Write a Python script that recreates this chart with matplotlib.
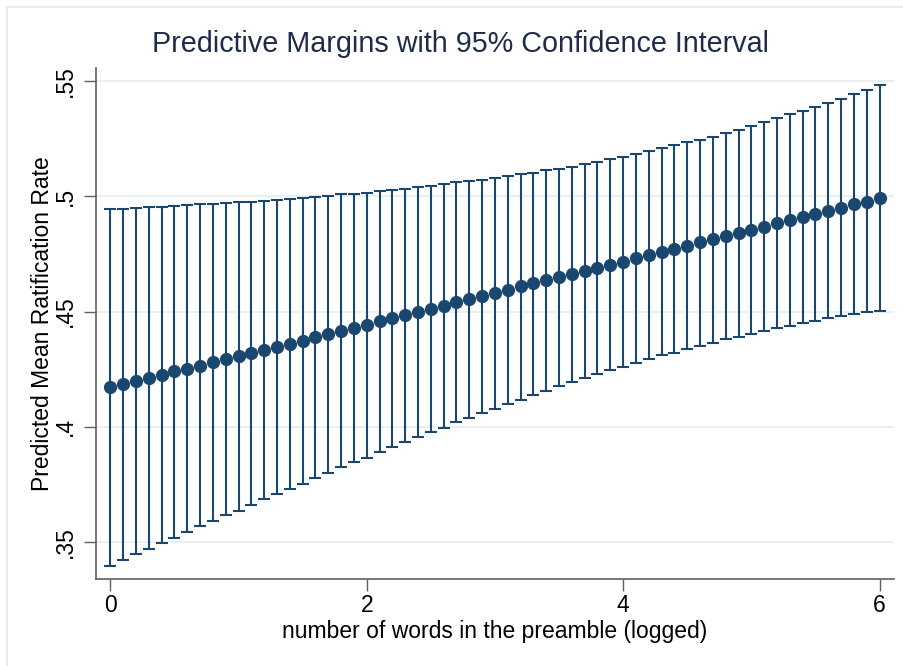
"""Predictive margins with 95% CI, Stata-style errorbar plot."""
import matplotlib
matplotlib.use("Agg")
import matplotlib.pyplot as plt
from matplotlib.lines import Line2D

# number of words in the preamble (logged), 0 to 6 by 0.1
words_logged = [round(0.1 * i, 1) for i in range(61)]

margin = [
    0.4171, 0.4186, 0.4200, 0.4212, 0.4225, 0.4241, 0.4252, 0.4265, 0.4280, 0.4293,
    0.4307, 0.4320, 0.4333, 0.4348, 0.4361, 0.4374, 0.4389, 0.4402, 0.4416, 0.4430,
    0.4443, 0.4457, 0.4471, 0.4484, 0.4497, 0.4512, 0.4526, 0.4540, 0.4554, 0.4568,
    0.4580, 0.4594, 0.4609, 0.4622, 0.4637, 0.4648, 0.4661, 0.4676, 0.4689, 0.4703,
    0.4717, 0.4732, 0.4745, 0.4760, 0.4773, 0.4786, 0.4802, 0.4813, 0.4826, 0.4841,
    0.4855, 0.4867, 0.4883, 0.4897, 0.4910, 0.4925, 0.4938, 0.4951, 0.4967, 0.4978,
    0.4993,
]

ci_low = [
    0.3396, 0.3422, 0.3445, 0.3470, 0.3493, 0.3517, 0.3542, 0.3567, 0.3589, 0.3615,
    0.3635, 0.3660, 0.3684, 0.3706, 0.3730, 0.3752, 0.3777, 0.3799, 0.3825, 0.3845,
    0.3865, 0.3890, 0.3912, 0.3932, 0.3954, 0.3976, 0.3996, 0.4022, 0.4037, 0.4060,
    0.4078, 0.4100, 0.4117, 0.4138, 0.4155, 0.4177, 0.4193, 0.4210, 0.4228, 0.4245,
    0.4261, 0.4277, 0.4293, 0.4310, 0.4322, 0.4339, 0.4352, 0.4365, 0.4379, 0.4391,
    0.4404, 0.4416, 0.4428, 0.4438, 0.4450, 0.4460, 0.4471, 0.4481, 0.4489, 0.4496,
    0.4503,
]

ci_high = [
    0.4945, 0.4947, 0.4948, 0.4952, 0.4955, 0.4960, 0.4961, 0.4965, 0.4967, 0.4971,
    0.4974, 0.4977, 0.4981, 0.4984, 0.4989, 0.4993, 0.4999, 0.5003, 0.5009, 0.5010,
    0.5016, 0.5023, 0.5028, 0.5032, 0.5041, 0.5047, 0.5054, 0.5061, 0.5068, 0.5071,
    0.5079, 0.5089, 0.5096, 0.5104, 0.5113, 0.5120, 0.5129, 0.5142, 0.5151, 0.5163,
    0.5173, 0.5184, 0.5197, 0.5210, 0.5222, 0.5235, 0.5247, 0.5260, 0.5277, 0.5289,
    0.5304, 0.5322, 0.5339, 0.5357, 0.5373, 0.5390, 0.5407, 0.5425, 0.5443, 0.5461,
    0.5483,
]

x_ticks = [0, 2, 4, 6]
y_ticks = [0.35, 0.40, 0.45, 0.50, 0.55]
y_ticklabels = [".35", ".4", ".45", ".5", ".55"]

NAVY = "#1a476f"
GRID = "#eaf0f2"
AXIS = "#606060"

plt.rcParams["font.family"] = ["Liberation Sans", "DejaVu Sans"]

W, H = 904, 666
fig = plt.figure(figsize=(W / 100, H / 100), dpi=100)
fig.patch.set_facecolor("white")

# faint outer frame of the graph region
fig.add_artist(Line2D([7 / W, 1.0], [1 - 7 / H, 1 - 7 / H], transform=fig.transFigure,
                      color="#e6e6e6", lw=1.2))
fig.add_artist(Line2D([7 / W, 7 / W], [0, 1 - 7 / H], transform=fig.transFigure,
                      color="#e6e6e6", lw=1.2))

ax = fig.add_axes([96 / W, (H - 579) / H, (894 - 96) / W, (579 - 68) / H])

yerr = [[m - lo for m, lo in zip(margin, ci_low)],
        [hi - m for m, hi in zip(margin, ci_high)]]
ax.errorbar(words_logged, margin, yerr=yerr, fmt="o", color=NAVY, ms=8.5,
            ecolor=NAVY, elinewidth=1.5, capsize=4.2, capthick=1.5, zorder=3)

ax.set_xlim(-0.112, 6.113)
ax.set_ylim(0.3338, 0.5558)

ax.set_yticks(y_ticks)
ax.set_yticklabels(y_ticklabels, rotation=90, va="center")
ax.set_xticks(x_ticks)
ax.set_xticklabels([str(t) for t in x_ticks])
ax.tick_params(axis="both", length=8.5, width=1, color=AXIS, labelsize=16.5,
               labelcolor="black")
ax.tick_params(axis="y", pad=5)
ax.tick_params(axis="x", pad=2.5)

for y in y_ticks:
    ax.axhline(y, color=GRID, lw=1.5, zorder=0)

for spine in ("top", "right"):
    ax.spines[spine].set_visible(False)
for spine in ("left", "bottom"):
    ax.spines[spine].set_color(AXIS)
    ax.spines[spine].set_linewidth(1.2)

ax.set_xlabel("number of words in the preamble (logged)", fontsize=16.5, labelpad=2)
ax.set_ylabel("Predicted Mean Ratification Rate", fontsize=16.5, labelpad=0)

fig.text(460 / W, 1 - 44 / H, "Predictive Margins with 95% Confidence Interval",
         ha="center", va="center", fontsize=20.7, color="#1e2c4a")

fig.savefig("out.png", dpi=100)
